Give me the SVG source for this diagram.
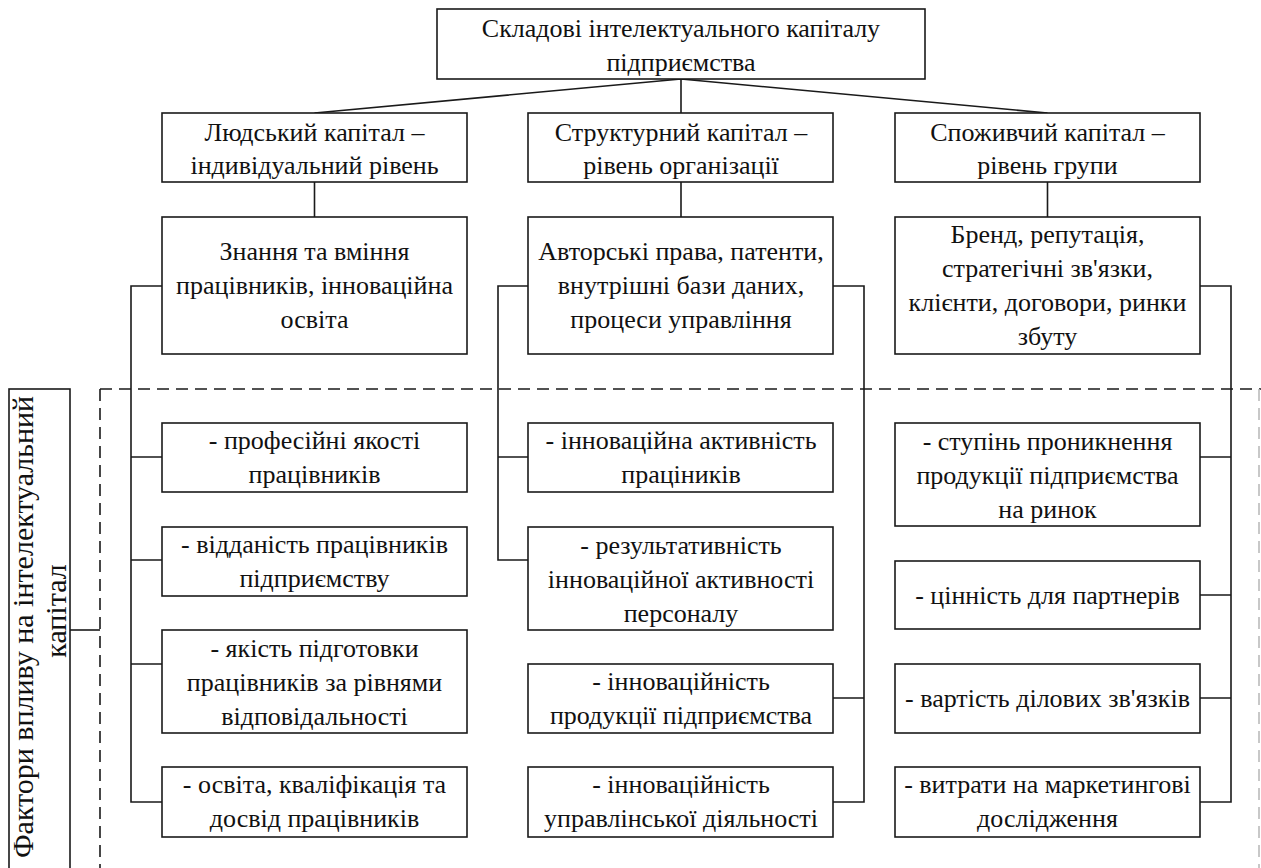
<svg xmlns="http://www.w3.org/2000/svg" width="1261" height="868" viewBox="0 0 1261 868">
<rect width="1261" height="868" fill="#fff"/>
<g id="frame" fill="none" stroke-width="1.6" stroke-dasharray="12 7">
<path stroke="#1a1a1a" d="M100,389 H1261 M100,389 V868"/>
<path stroke="#bbb" d="M1259,389 V868"/>
</g>
<g id="connectors" fill="none" stroke="#1a1a1a" stroke-width="1.6">
<path d="M681,79 L314.5,113 M681,79 V113 M681,79 L1047.5,113"/>
<path d="M314.5,182 V217 M681,182 V217 M1047.5,182 V217"/>
<path d="M162,286 H131 V802 H162 M131,457 H162 M131,560 H162 M131,664 H162"/>
<path d="M528,286 H498 V560 H528 M498,457 H528"/>
<path d="M833,286 H864 V802 H833 M864,698 H833"/>
<path d="M1200,286 H1231 V802 H1200 M1231,457 H1200 M1231,595 H1200 M1231,698 H1200"/>
<path d="M70,630 H100"/>
</g>
<g id="nodes" font-family="Liberation Serif" font-size="26" text-anchor="middle">
<g id="top"><rect fill="#fff" stroke="#1a1a1a" stroke-width="1.6" x="437" y="9" width="488" height="70"/><text font-family="Liberation Serif" fill="#111" x="681" y="37">Складові інтелектуального капіталу</text><text font-family="Liberation Serif" fill="#111" x="681" y="71">підприємства</text></g>
<g id="human"><rect fill="#fff" stroke="#1a1a1a" stroke-width="1.6" x="162" y="113" width="305" height="69"/><text font-family="Liberation Serif" fill="#111" x="314.5" y="141">Людський капітал –</text><text font-family="Liberation Serif" fill="#111" x="314.5" y="174">індивідуальний рівень</text></g>
<g id="structural"><rect fill="#fff" stroke="#1a1a1a" stroke-width="1.6" x="528" y="113" width="305" height="69"/><text font-family="Liberation Serif" fill="#111" x="681" y="141">Структурний капітал –</text><text font-family="Liberation Serif" fill="#111" x="681" y="174">рівень організації</text></g>
<g id="consumer"><rect fill="#fff" stroke="#1a1a1a" stroke-width="1.6" x="895" y="113" width="305" height="69"/><text font-family="Liberation Serif" fill="#111" x="1047.5" y="141">Споживчий капітал –</text><text font-family="Liberation Serif" fill="#111" x="1047.5" y="174">рівень групи</text></g>
<g id="human-desc"><rect fill="#fff" stroke="#1a1a1a" stroke-width="1.6" x="162" y="217" width="305" height="137"/><text font-family="Liberation Serif" fill="#111" x="314.5" y="259.5">Знання та вміння</text><text font-family="Liberation Serif" fill="#111" x="314.5" y="293.5">працівників, інноваційна</text><text font-family="Liberation Serif" fill="#111" x="314.5" y="327.5">освіта</text></g>
<g id="structural-desc"><rect fill="#fff" stroke="#1a1a1a" stroke-width="1.6" x="528" y="217" width="305" height="137"/><text font-family="Liberation Serif" fill="#111" x="681" y="259.5">Авторські права, патенти,</text><text font-family="Liberation Serif" fill="#111" x="681" y="293.5">внутрішні бази даних,</text><text font-family="Liberation Serif" fill="#111" x="681" y="327.5">процеси управління</text></g>
<g id="consumer-desc"><rect fill="#fff" stroke="#1a1a1a" stroke-width="1.6" x="895" y="217" width="305" height="137"/><text font-family="Liberation Serif" fill="#111" x="1047.5" y="242.5">Бренд, репутація,</text><text font-family="Liberation Serif" fill="#111" x="1047.5" y="276.5">стратегічні зв'язки,</text><text font-family="Liberation Serif" fill="#111" x="1047.5" y="310.5">клієнти, договори, ринки</text><text font-family="Liberation Serif" fill="#111" x="1047.5" y="344.5">збуту</text></g>
<g id="label"><rect fill="#fff" stroke="#1a1a1a" stroke-width="1.6" x="9" y="389" width="61" height="490"/><text font-family="Liberation Serif" fill="#111" font-size="30" transform="translate(33,627) rotate(-90)">Фактори впливу на інтелектуальний</text><text font-family="Liberation Serif" fill="#111" font-size="30" transform="translate(66,611) rotate(-90)">капітал</text></g>
<g id="h1"><rect fill="#fff" stroke="#1a1a1a" stroke-width="1.6" x="162" y="423" width="305" height="69"/><text font-family="Liberation Serif" fill="#111" x="314.5" y="448.5">- професійні якості</text><text font-family="Liberation Serif" fill="#111" x="314.5" y="482.5">працівників</text></g>
<g id="h2"><rect fill="#fff" stroke="#1a1a1a" stroke-width="1.6" x="162" y="527" width="305" height="69"/><text font-family="Liberation Serif" fill="#111" x="314.5" y="552.5">- відданість працівників</text><text font-family="Liberation Serif" fill="#111" x="314.5" y="586.5">підприємству</text></g>
<g id="h3"><rect fill="#fff" stroke="#1a1a1a" stroke-width="1.6" x="162" y="630" width="305" height="103"/><text font-family="Liberation Serif" fill="#111" x="314.5" y="656.5">- якість підготовки</text><text font-family="Liberation Serif" fill="#111" x="314.5" y="690.5">працівників за рівнями</text><text font-family="Liberation Serif" fill="#111" x="314.5" y="724.5">відповідальності</text></g>
<g id="h4"><rect fill="#fff" stroke="#1a1a1a" stroke-width="1.6" x="162" y="767" width="305" height="70"/><text font-family="Liberation Serif" fill="#111" x="314.5" y="793">- освіта, кваліфікація та</text><text font-family="Liberation Serif" fill="#111" x="314.5" y="827">досвід працівників</text></g>
<g id="s1"><rect fill="#fff" stroke="#1a1a1a" stroke-width="1.6" x="528" y="423" width="305" height="69"/><text font-family="Liberation Serif" fill="#111" x="681" y="448.5">- інноваційна активність</text><text font-family="Liberation Serif" fill="#111" x="681" y="482.5">праціників</text></g>
<g id="s2"><rect fill="#fff" stroke="#1a1a1a" stroke-width="1.6" x="528" y="527" width="305" height="103"/><text font-family="Liberation Serif" fill="#111" x="681" y="553.5">- результативність</text><text font-family="Liberation Serif" fill="#111" x="681" y="587.5">інноваційної активності</text><text font-family="Liberation Serif" fill="#111" x="681" y="621.5">персоналу</text></g>
<g id="s3"><rect fill="#fff" stroke="#1a1a1a" stroke-width="1.6" x="528" y="664" width="305" height="69"/><text font-family="Liberation Serif" fill="#111" x="681" y="689.5">- інноваційність</text><text font-family="Liberation Serif" fill="#111" x="681" y="723.5">продукції підприємства</text></g>
<g id="s4"><rect fill="#fff" stroke="#1a1a1a" stroke-width="1.6" x="528" y="767" width="305" height="70"/><text font-family="Liberation Serif" fill="#111" x="681" y="793">- інноваційність</text><text font-family="Liberation Serif" fill="#111" x="681" y="827">управлінської діяльності</text></g>
<g id="c1"><rect fill="#fff" stroke="#1a1a1a" stroke-width="1.6" x="895" y="423" width="305" height="103"/><text font-family="Liberation Serif" fill="#111" x="1047.5" y="449.5">- ступінь проникнення</text><text font-family="Liberation Serif" fill="#111" x="1047.5" y="483.5">продукції підприємства</text><text font-family="Liberation Serif" fill="#111" x="1047.5" y="517.5">на ринок</text></g>
<g id="c2"><rect fill="#fff" stroke="#1a1a1a" stroke-width="1.6" x="895" y="561" width="305" height="68"/><text font-family="Liberation Serif" fill="#111" x="1047.5" y="604">- цінність для партнерів</text></g>
<g id="c3"><rect fill="#fff" stroke="#1a1a1a" stroke-width="1.6" x="895" y="664" width="305" height="69"/><text font-family="Liberation Serif" fill="#111" x="1047.5" y="707">- вартість ділових зв'язків</text></g>
<g id="c4"><rect fill="#fff" stroke="#1a1a1a" stroke-width="1.6" x="895" y="767" width="305" height="70"/><text font-family="Liberation Serif" fill="#111" x="1047.5" y="793">- витрати на маркетингові</text><text font-family="Liberation Serif" fill="#111" x="1047.5" y="827">дослідження</text></g>
</g>
</svg>
